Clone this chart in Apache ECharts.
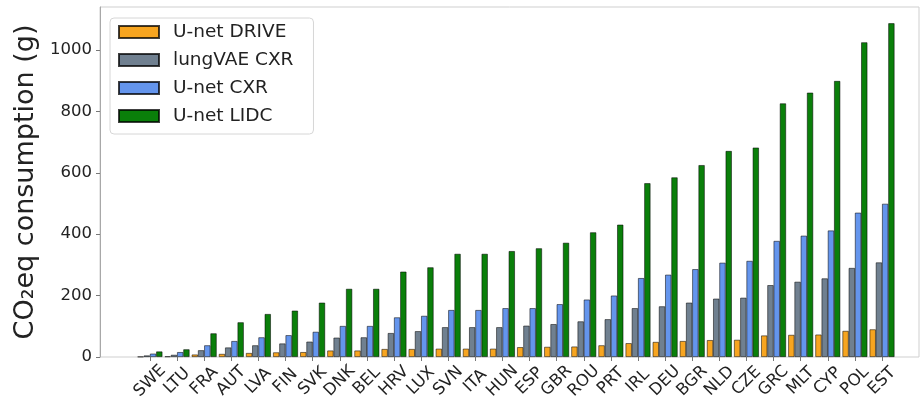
<!DOCTYPE html>
<html>
<head>
<meta charset="utf-8">
<script src="https://cdn.jsdelivr.net/npm/echarts@6/dist/echarts.min.js"></script>
<style>
  html, body { margin: 0; padding: 0; background: #fff; }
  #chart { width: 920px; height: 403px; }
</style>
</head>
<body>
<div id="chart"></div>
<script>
// Countries, ordered by rising footprint
const countries = ['SWE','LTU','FRA','AUT','LVA','FIN','SVK','DNK','BEL','HRV','LUX','SVN','ITA','HUN',
                   'ESP','GBR','ROU','PRT','IRL','DEU','BGR','NLD','CZE','GRC','MLT','CYP','POL','EST'];

// CO2eq consumption (g) per model
const unetDrive = [1, 2, 8, 10, 13, 15, 16, 21, 21, 26, 26, 27, 27, 27,
                   32, 33, 34, 38, 45, 49, 52, 55, 56, 70, 72, 73, 85, 90];
const lungVaeCxr = [5, 7, 22, 31, 38, 44, 50, 63, 64, 78, 84, 97, 97, 97,
                    102, 107, 116, 123, 159, 165, 177, 190, 193, 234, 245, 256, 290, 308];
const unetCxr = [11, 16, 38, 52, 64, 71, 82, 101, 101, 129, 134, 153, 153, 159,
                 159, 172, 187, 200, 257, 268, 286, 307, 313, 378, 395, 412, 470, 499];
const unetLidc = [18, 25, 77, 113, 140, 151, 177, 222, 222, 278, 292, 336, 336, 345,
                  354, 372, 406, 431, 566, 585, 625, 671, 682, 826, 861, 899, 1025, 1087];

const yTicks = [0, 200, 400, 600, 800, 1000];
const yMax = 1140;

const FONT = 'DejaVu Sans';
const edge = { borderColor: 'rgba(0,0,0,0.75)', borderWidth: 0.7 };

function barSeries(name, data, color) {
  return {
    name: name,
    type: 'bar',
    xAxisIndex: 1,
    yAxisIndex: 1,
    data: data,
    barWidth: '23%',
    barGap: '0%',
    itemStyle: Object.assign({ color: color }, edge),
    emphasis: { disabled: true }
  };
}

const chart = echarts.init(document.getElementById('chart'), null, { renderer: 'canvas' });
chart.setOption({
  animation: false,
  textStyle: { fontFamily: FONT },
  grid: [
    // outer frame carrying the value axis
    { left: 100, right: 1, top: 7, bottom: 46, show: true, borderColor: '#cfcfcf', borderWidth: 1 },
    // band for the grouped bars
    { left: 136.4, right: 24.4, top: 7, bottom: 46 }
  ],
  xAxis: [
    { gridIndex: 0, type: 'value', show: false, min: 0, max: 1 },
    {
      gridIndex: 1,
      type: 'category',
      data: countries,
      axisLine: { show: false },
      axisTick: { show: true, alignWithLabel: true, length: 4, lineStyle: { color: '#777' } },
      axisLabel: {
        rotate: 45, align: 'center', verticalAlign: 'middle', margin: 24,
        fontSize: 16.5, color: '#222', fontFamily: FONT, interval: 0
      }
    }
  ],
  yAxis: [
    {
      gridIndex: 0,
      type: 'value',
      min: 0, max: yMax,
      name: 'CO\u2082eq consumption (g)',
      nameLocation: 'middle',
      nameGap: 51,
      nameTextStyle: { fontSize: 27, color: '#222', fontFamily: FONT },
      splitLine: { show: false },
      axisLine: { show: true, lineStyle: { color: '#a8a8a8' } },
      axisTick: { show: true, length: 4, lineStyle: { color: '#777' }, customValues: yTicks },
      axisLabel: {
        fontSize: 16.5, color: '#222', margin: 8, fontFamily: FONT, customValues: yTicks,
        formatter: function (v) { return String(v); }
      }
    },
    { gridIndex: 1, type: 'value', min: 0, max: yMax, show: false, splitLine: { show: false } }
  ],
  legend: {
    orient: 'vertical',
    left: 110, top: 18,
    padding: [4, 20, 8, 8],
    itemGap: 8,
    itemWidth: 40,
    itemHeight: 12,
    icon: 'rect',
    backgroundColor: 'rgba(255,255,255,0.85)',
    borderColor: '#d6d6d6',
    borderWidth: 1,
    borderRadius: 4,
    textStyle: { fontSize: 18.5, color: '#222', fontFamily: FONT, lineHeight: 20, padding: [0, 0, 0, 9] },
    data: ['U-net DRIVE', 'lungVAE CXR', 'U-net CXR', 'U-net LIDC']
  },
  series: [
    barSeries('U-net DRIVE', unetDrive, '#F7A520'),
    barSeries('lungVAE CXR', lungVaeCxr, '#708090'),
    barSeries('U-net CXR', unetCxr, '#6495ED'),
    barSeries('U-net LIDC', unetLidc, '#0a7f0a')
  ]
});
</script>
</body>
</html>
